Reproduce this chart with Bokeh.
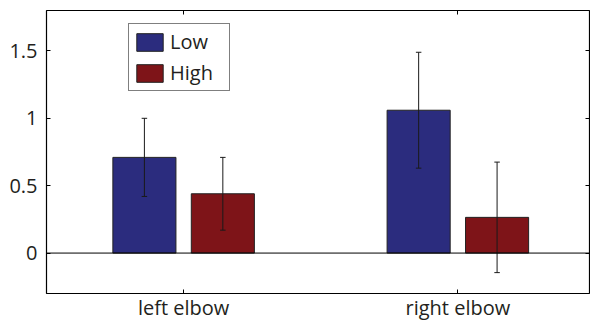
import numpy as np
from bokeh.plotting import figure
from bokeh.models import (ColumnDataSource, Span, FixedTicker, Range1d, Legend, LegendItem,
                          LinearAxis)
from bokeh.embed import file_html
from bokeh.resources import INLINE

categories = ["left elbow", "right elbow"]
low = [0.71, 1.06]
high = [0.44, 0.265]
low_err = [0.29, 0.43]
high_err = [0.27, 0.41]
y_ticks = [0, 0.5, 1, 1.5]

FONT = "Open Sans"
BLUE = "#2b2c7e"
RED = "#7e1418"
TXT = "#231f20"
offset = 0.143
bw = 0.23
cap = 0.01

xc = np.arange(1, len(categories) + 1)

def make_src(x, vals, errs):
    v = np.array(vals)
    e = np.array(errs)
    return ColumnDataSource(dict(x=x, top=v, upper=v + e, lower=v - e,
                                 x0=x - cap, x1=x + cap))

low_src = make_src(xc - offset, low, low_err)
high_src = make_src(xc + offset, high, high_err)

p = figure(width=590, height=323, output_backend="svg", toolbar_location=None,
           x_range=Range1d(0.5, 2.48), y_range=Range1d(-0.3, 1.8),
           min_border_left=46, min_border_top=10, min_border_right=1, min_border_bottom=29)
p.xgrid.visible = False
p.ygrid.visible = False
p.outline_line_color = "black"
p.outline_line_width = 1.2

r_low = p.vbar(x="x", top="top", bottom=0, width=bw, source=low_src,
               fill_color=BLUE, line_color="#222222", line_width=1)
r_high = p.vbar(x="x", top="top", bottom=0, width=bw, source=high_src,
                fill_color=RED, line_color="#222222", line_width=1)

p.add_layout(Span(location=0, dimension="width", line_color="black", line_width=1))

for src in (low_src, high_src):
    p.segment(x0="x", y0="lower", x1="x", y1="upper", source=src,
              line_color="#1a1a1a", line_width=1)
    p.segment(x0="x0", y0="upper", x1="x1", y1="upper", source=src,
              line_color="#1a1a1a", line_width=1)
    p.segment(x0="x0", y0="lower", x1="x1", y1="lower", source=src,
              line_color="#1a1a1a", line_width=1)

xa = p.below[0]
ya = p.left[0]

# mirrored tick-only axes (top / right), as in the original
top_ax = LinearAxis(ticker=FixedTicker(ticks=list(xc)))
right_ax = LinearAxis(ticker=FixedTicker(ticks=y_ticks))
for ax in (top_ax, right_ax):
    ax.major_label_text_font_size = "0px"
    ax.major_label_standoff = 0
    ax.major_label_text_alpha = 0
p.add_layout(top_ax, "above")
p.add_layout(right_ax, "right")

xa.ticker = FixedTicker(ticks=list(xc))
xa.major_label_overrides = {int(i): c for i, c in zip(xc, categories)}
ya.ticker = FixedTicker(ticks=y_ticks)
ya.major_label_overrides = {0: "0", 0.5: "0.5", 1: "1", 1.5: "1.5"}
for ax in (xa, ya, top_ax, right_ax):
    ax.major_tick_in = 4
    ax.major_tick_out = 0
    ax.minor_tick_line_color = None
    ax.axis_line_color = None
    ax.major_tick_line_color = "black"
for ax in (xa, ya):
    ax.major_label_text_font = FONT
    ax.major_label_text_font_size = "20px"
    ax.major_label_text_color = TXT
ya.major_label_standoff = 9
xa.major_label_standoff = 0

legend = Legend(items=[LegendItem(label="Low", renderers=[r_low]),
                       LegendItem(label="High", renderers=[r_high])],
                location=(82, 202), orientation="vertical",
                glyph_width=33, glyph_height=22, spacing=4, padding=4,
                label_standoff=4, label_text_font=FONT, label_text_font_size="20px",
                label_text_color=TXT, label_width=55,
                label_height=22, border_line_color="black", border_line_width=1,
                background_fill_alpha=1, margin=0)
p.add_layout(legend)

open("out.html", "w").write(file_html(p, INLINE))
